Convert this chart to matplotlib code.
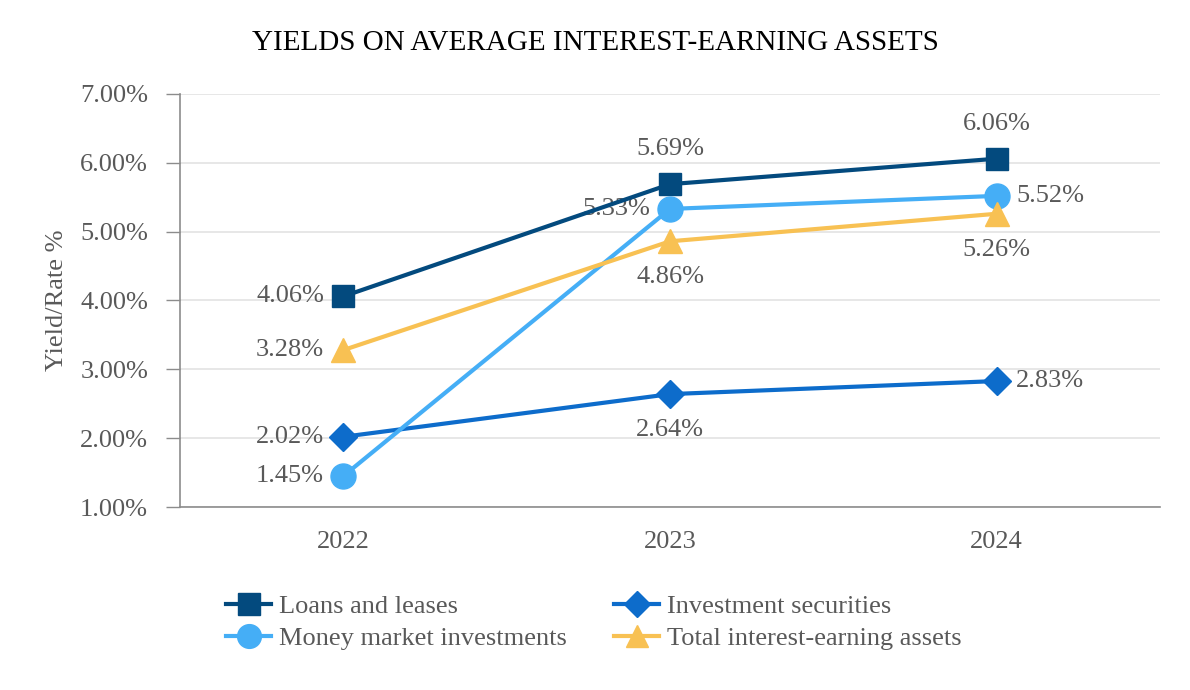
import matplotlib.pyplot as plt
from matplotlib.ticker import FuncFormatter

years = ["2022", "2023", "2024"]
loans = [4.06, 5.69, 6.06]
investment = [2.02, 2.64, 2.83]
money_market = [1.45, 5.33, 5.52]
total_assets = [3.28, 4.86, 5.26]
yticks = [1, 2, 3, 4, 5, 6, 7]

plt.rcParams['font.family'] = ['Liberation Serif', 'DejaVu Serif']

gray = '#595959'
fig = plt.figure(figsize=(11.9, 6.9), dpi=100)
ax = fig.add_axes([0.1513, 0.2652, 0.8235, 0.5986])

x = range(len(years))
l1, = ax.plot(x, loans, color='#034A7E', lw=3, marker='s', ms=16, label='Loans and leases', zorder=4)
l2, = ax.plot(x, investment, color='#0D6CCB', lw=3, marker='D', ms=14, label='Investment securities', zorder=4)
l3, = ax.plot(x, money_market, color='#45AEF6', lw=3, marker='o', ms=18, label='Money market investments', zorder=4)
l4, = ax.plot(x, total_assets, color='#F8C153', lw=3, marker='^', ms=17, label='Total interest-earning assets', zorder=4)

# data labels, offsets in points
fs = 19
offsets = {'left': (-14, 0, 'right'), 'right': (14, 0, 'left'),
           'above': (0, 25, 'center'), 'below': (0, -26, 'center')}

def lab(i, v, pos):
    dx, dy, ha = offsets[pos]
    ax.annotate(f"{v:.2f}%", (i, v), xytext=(dx, dy), textcoords='offset points',
                ha=ha, va='center', fontsize=fs, color=gray)

for i, p in enumerate(['left', 'above', 'above']):
    lab(i, loans[i], p)
for i, p in enumerate(['left', 'below', 'right']):
    lab(i, investment[i], p)
for i, p in enumerate(['left', 'left', 'right']):
    lab(i, money_market[i], p)
for i, p in enumerate(['left', 'below', 'below']):
    lab(i, total_assets[i], p)

ax.set_xlim(-0.5, 2.5)
ax.set_ylim(1, 7)
ax.set_yticks(yticks)
ax.yaxis.set_major_formatter(FuncFormatter(lambda v, p: f"{v:.2f}%"))
ax.set_xticks(list(x))
ax.set_xticklabels(years)
ax.tick_params(axis='x', length=0, pad=17, labelsize=19, labelcolor=gray)
ax.tick_params(axis='y', length=10, width=1, color='#8c8c8c', pad=13, labelsize=19, labelcolor=gray)
ax.grid(axis='y', color='#e3e3e3', lw=1.2)
ax.set_axisbelow(True)
for s in ['top', 'right']:
    ax.spines[s].set_visible(False)
for s in ['left', 'bottom']:
    ax.spines[s].set_color('#8c8c8c')
    ax.spines[s].set_linewidth(1.2)
ax.set_ylabel("Yield/Rate %", fontsize=19, color=gray, labelpad=9)

fig.text(0.5, 0.937, "YIELDS ON AVERAGE INTEREST-EARNING ASSETS", ha='center', va='center', fontsize=21, color='black')

fig.legend(handles=[l1, l3, l2, l4], loc='upper left', bbox_to_anchor=(0.19, 0.138), ncol=2,
           frameon=False, fontsize=19, labelcolor=gray, handlelength=1.7, handletextpad=0.3,
           columnspacing=1.8, labelspacing=0.32, borderaxespad=0, borderpad=0, markerscale=0.95)

fig.savefig("out.png", dpi=100)
